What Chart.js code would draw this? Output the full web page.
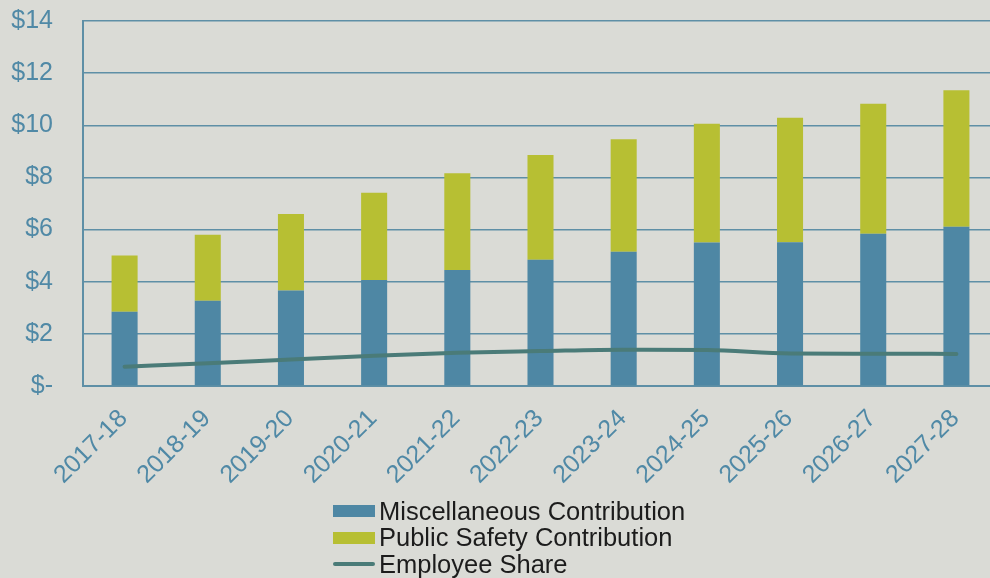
<!DOCTYPE html>
<html>
<head>
<meta charset="utf-8">
<script src="https://cdn.jsdelivr.net/npm/chart.js@4"></script>
<style>
  html, body { margin: 0; padding: 0; overflow: hidden; background: #dadbd6; }
  #wrap { position: relative; width: 1000px; height: 578px; }
  #legend {
    position: absolute; left: 333px; top: 498px;
    font-family: "Liberation Sans", Arial, sans-serif; font-size: 25.5px; color: #1c1c1c;
  }
  .item { display: flex; align-items: center; height: 26.5px; white-space: nowrap; }
  .swatch { width: 42px; height: 12px; margin-right: 4px; }
  .swatch.line { height: 4px; border-radius: 2px; }
</style>
</head>
<body>
<div id="wrap">
  <canvas id="chart"></canvas>
  <div id="legend"></div>
</div>
<script>
const years = ['2017-18', '2018-19', '2019-20', '2020-21', '2021-22', '2022-23',
  '2023-24', '2024-25', '2025-26', '2026-27', '2027-28'];
const miscellaneous = [2.85, 3.27, 3.66, 4.07, 4.45, 4.84, 5.15, 5.50, 5.51, 5.84, 6.11];
const publicSafety = [2.16, 2.53, 2.94, 3.34, 3.71, 4.02, 4.31, 4.56, 4.78, 4.99, 5.23];
const employeeShare = [0.74, 0.87, 1.02, 1.16, 1.28, 1.34, 1.39, 1.38, 1.25, 1.24, 1.23];

const axisBlue = '#5089a6';
const gridBlue = '#5e8fa6';
const font = { family: '"Liberation Sans", Arial, sans-serif', size: 25 };

const ctx = document.getElementById('chart').getContext('2d');
const chart = new Chart(ctx, {
  type: 'bar',
  data: {
    labels: years,
    datasets: [
      {
        type: 'line',
        label: 'Employee Share',
        data: employeeShare,
        borderColor: '#4a7b78',
        borderWidth: 4,
        borderCapStyle: 'round',
        pointRadius: 0,
        cubicInterpolationMode: 'monotone',
        stack: 'employee',
        order: 0
      },
      {
        label: 'Miscellaneous Contribution',
        data: miscellaneous,
        backgroundColor: '#4e87a4',
        stack: 'employer',
        order: 1
      },
      {
        label: 'Public Safety Contribution',
        data: publicSafety,
        backgroundColor: '#b7bf33',
        stack: 'employer',
        order: 1
      }
    ]
  },
  options: {
    responsive: true,
    maintainAspectRatio: false,
    animation: false,
    datasets: { bar: { categoryPercentage: 1, barPercentage: 0.313 } },
    layout: { padding: { top: 21, right: 2, bottom: 92, left: 0 } },
    plugins: { legend: { display: false }, tooltip: { enabled: false } },
    scales: {
      x: {
        stacked: true,
        grid: { display: false },
        border: { display: true, color: gridBlue, width: 2 },
        ticks: {
          color: axisBlue, font: font,
          maxRotation: 45, minRotation: 45,
          padding: 10, labelOffset: -1, autoSkip: false
        },
        afterFit: scale => { scale.height = 100; }
      },
      y: {
        stacked: true,
        min: 0,
        max: 14,
        grid: { color: gridBlue, lineWidth: 1.5, drawTicks: false },
        border: { display: true, color: gridBlue, width: 2 },
        ticks: {
          stepSize: 2, color: axisBlue, font: font, padding: 30,
          callback: v => v === 0 ? '$-' : '$' + v
        },
        afterFit: scale => {
          scale.width = 83;
          scale.paddingTop = 0;
          scale.paddingBottom = 0;
        }
      }
    }
  }
});

// legend stacked in one column, like the original
const legend = document.getElementById('legend');
[1, 2, 0].forEach(i => {
  const ds = chart.data.datasets[i];
  const row = document.createElement('div');
  row.className = 'item';
  const sw = document.createElement('span');
  sw.className = ds.type === 'line' ? 'swatch line' : 'swatch';
  sw.style.background = ds.type === 'line' ? ds.borderColor : ds.backgroundColor;
  row.appendChild(sw);
  row.appendChild(document.createTextNode(ds.label));
  legend.appendChild(row);
});
</script>
</body>
</html>
